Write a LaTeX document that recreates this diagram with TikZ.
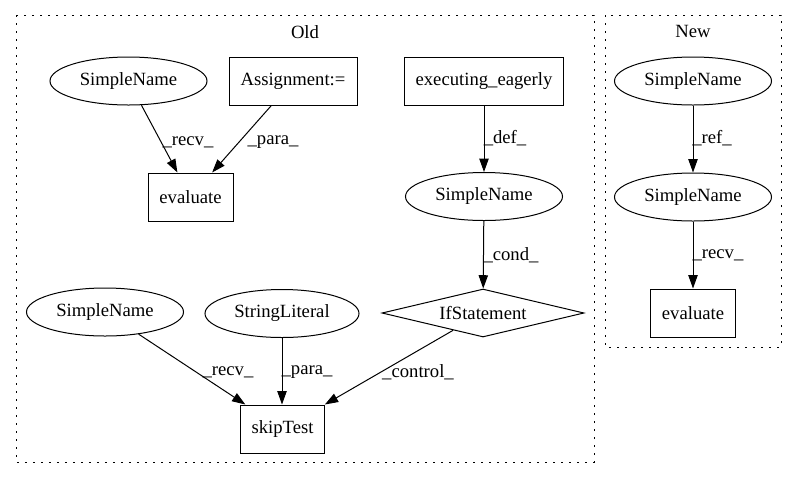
\documentclass[tikz,border=0pt]{standalone}
\usepackage{fontspec}
\setmainfont{Liberation Serif}
\usetikzlibrary{shapes.geometric,arrows.meta}
\begin{document}
\begin{tikzpicture}[x=0.75pt,y=-0.75pt,
  every node/.style={font=\fontsize{14pt}{16pt}\selectfont},
  ell/.style={draw,ellipse,minimum width=117.75pt,minimum height=36pt,inner sep=0pt,line width=0.75pt},
  box/.style={draw,rectangle,minimum height=36pt,inner sep=0pt,line width=0.75pt},
  dia/.style={draw,diamond,aspect=4.2,minimum width=151.5pt,minimum height=36pt,inner sep=0pt,line width=0.75pt},
  edge/.style={line width=0.75pt,-{Triangle[length=10pt,width=7pt]}},
  lbl/.style={inner sep=0pt},
  cluster/.style={draw,line width=0.75pt,dash pattern=on 1.2pt off 4.8pt}
]
\useasboundingbox (0,0) rectangle (797,480);
% clusters
\draw[cluster] (16,15) rectangle (594,462);
\draw[cluster] (605,15) rectangle (781,347);
\node[lbl] (oldlbl) at (305,32) {Old};
\node[lbl] (newlbl) at (693,31) {New};
% Old nodes
\node[ell] (sn1) at (128.5,81) {SimpleName};
\node[box,minimum width=96pt] (asg) at (293,81) {Assignment:=};
\node[box,minimum width=119.25pt] (exe) at (484,81) {executing\_eagerly};
\node[box,minimum width=63.75pt] (ev1) at (190.5,197) {evaluate};
\node[ell] (sn2) at (484,196.5) {SimpleName};
\node[dia] (ifs) at (483,313) {IfStatement};
\node[ell] (sn3) at (105,312) {SimpleName};
\node[ell,minimum width=115.5pt] (str) at (282,313.5) {StringLiteral};
\node[box,minimum width=63pt] (skip) at (282.5,429) {skipTest};
% New nodes
\node[ell] (nsn1) at (693,81) {SimpleName};
\node[ell] (nsn2) at (693,197) {SimpleName};
\node[box,minimum width=63.75pt] (nev) at (693,313) {evaluate};
% Old edges
\draw[edge] (sn1) -- (ev1) node[lbl] at (188,142) {\_recv\_};
\draw[edge] (asg) -- (ev1) node[lbl] at (273,142) {\_para\_};
\draw[edge] (exe) -- (sn2) node[lbl] at (505,138) {\_def\_};
\draw[edge] (sn2) -- (ifs) node[lbl] at (511,255) {\_cond\_};
\draw[edge] (sn3) -- (skip) node[lbl] at (228,372) {\_recv\_};
\draw[edge] (str) -- (skip.north -| str) node[lbl] at (307,372) {\_para\_};
\draw[edge] (ifs) -- (skip) node[lbl] at (418,372) {\_control\_};
% New edges
\draw[edge] (nsn1) -- (nsn2) node[lbl] at (712,138) {\_ref\_};
\draw[edge] (nsn2) -- (nev) node[lbl] at (718,255) {\_recv\_};
\end{tikzpicture}
\end{document}
